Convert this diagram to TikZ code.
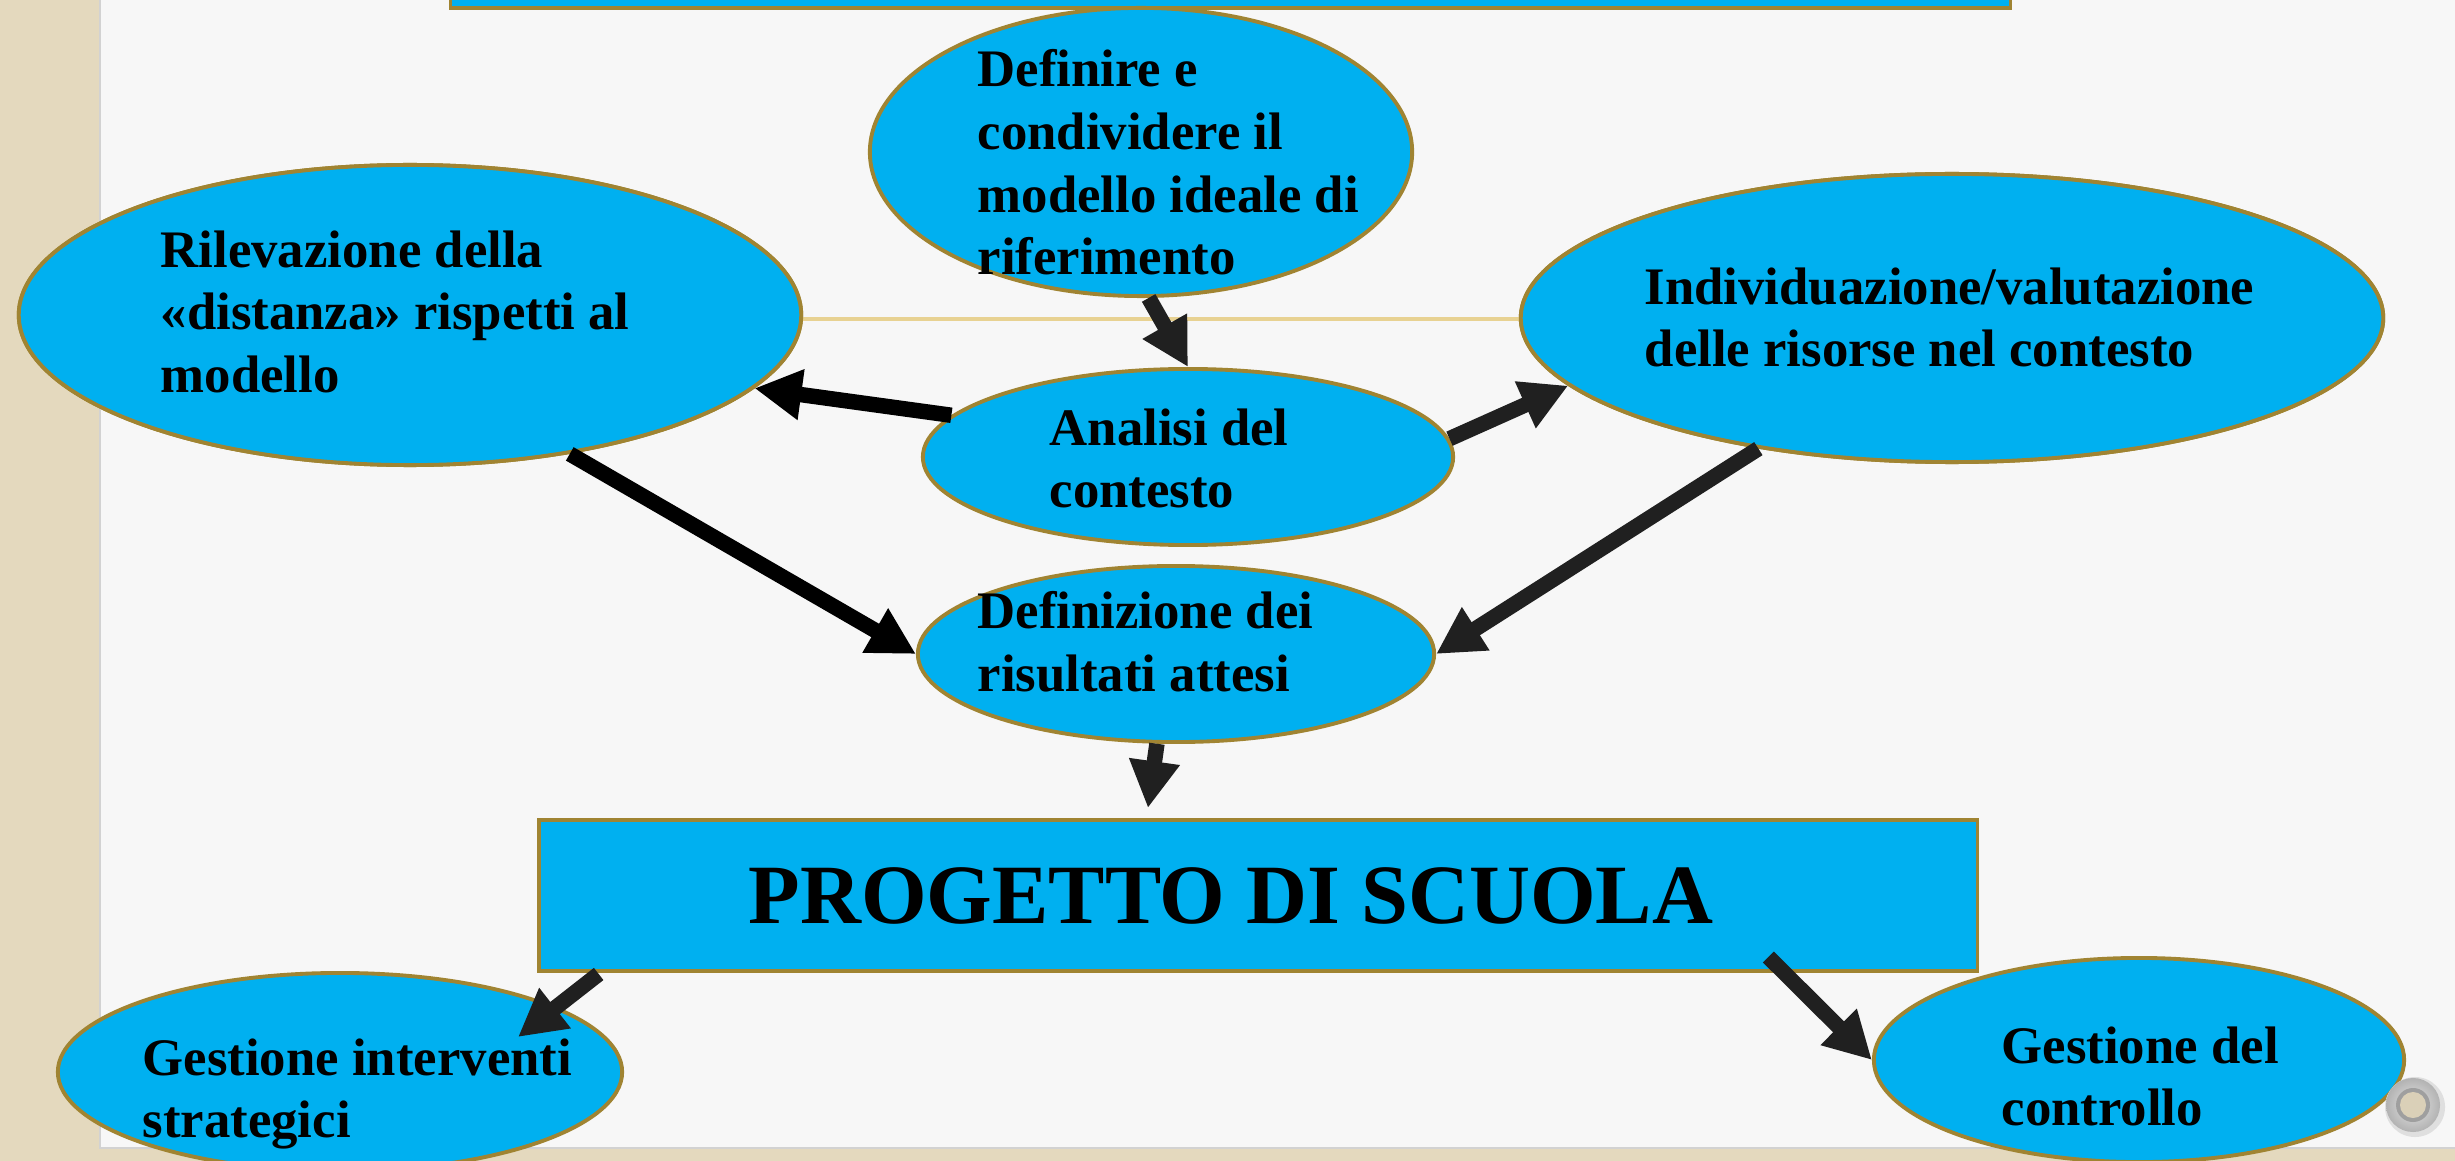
\documentclass[tikz,border=0pt]{standalone}
\usepackage{fontspec}
\setmainfont{Liberation Serif}
\usetikzlibrary{arrows.meta,calc,shapes.geometric}
\definecolor{cyanfill}{HTML}{00B0F0}
\definecolor{goldline}{HTML}{A08432}
\definecolor{beige}{HTML}{E4D9BE}
\definecolor{paper}{HTML}{F7F7F7}
\definecolor{arrowc}{HTML}{202020}
\definecolor{rulegold}{HTML}{E8D292}
\begin{document}
\begin{tikzpicture}[x=0.01cm,y=-0.01cm,
  oval/.style={ellipse, draw=goldline, line width=1.1pt, fill=cyanfill, inner sep=0pt},
  boxnode/.style={rectangle, draw=goldline, line width=1.1pt, fill=cyanfill, inner sep=0pt},
  lbl/.style={anchor=north west, inner sep=0pt, align=left, font=\fontsize{15}{17.8}\selectfont\bfseries},
  blockarrow/.style={draw=arrowc, line width=4.4pt, -{Triangle[length=0.47cm,width=0.48cm]}},
  blackarrow/.style={blockarrow, draw=black}]
\useasboundingbox (0,0) rectangle (2455,1161);
\clip (0,0) rectangle (2455,1161);
% background
\fill[beige] (0,0) rectangle (2455,1161);
\fill[paper] (100,0) rectangle (2455,1148);
\draw[gray!35, line width=0.6pt] (100,0) -- (100,1148) -- (2455,1148);
% top box
\node[boxnode, minimum width=15.59cm, minimum height=0.8cm] (topbox) at (1230.5,-32) {};
% ellipses
\node[oval, minimum width=7.82cm, minimum height=3.00cm] (rilev) at (410,315) {};
\node[oval, minimum width=8.62cm, minimum height=2.88cm] (indiv) at (1952,318) {};
\draw[rulegold, line width=1pt] (rilev.center |- 0,319) -- (indiv.center |- 0,319);
\node[oval, minimum width=7.82cm, minimum height=3.00cm] at (410,315) {};
\node[oval, minimum width=8.62cm, minimum height=2.88cm] at (1952,318) {};
\node[oval, minimum width=5.42cm, minimum height=2.88cm] (defi) at (1141,152) {};
\node[oval, minimum width=5.30cm, minimum height=1.76cm] (analisi) at (1188,457) {};
\node[oval, minimum width=5.16cm, minimum height=1.76cm] (defres) at (1176,654) {};
\node[boxnode, minimum width=14.38cm, minimum height=1.51cm] (progetto) at (1258,895.5) {};
\node[oval, minimum width=5.64cm, minimum height=1.98cm] (gestint) at (340,1072) {};
\node[oval, minimum width=5.30cm, minimum height=2.04cm] (gestcont) at (2139,1060) {};
% texts
\node[lbl] (tdefi) at (977,49) {Definire e\\condividere il\\modello ideale di\\riferimento};
\node[lbl] (trilev) at (160,230) {Rilevazione della\\«distanza» rispetti al\\modello};
\node[lbl] (tindiv) at (1644,267) {Individuazione/valutazione\\delle risorse nel contesto};
\node[lbl] (tanalisi) at (1049,408) {Analisi del\\contesto};
\node[lbl] (tdefres) at (977,591) {Definizione dei\\risultati attesi};
\node[inner sep=0pt, font=\fontsize{24}{28}\selectfont\bfseries] (tprog) at (1231,896) {PROGETTO DI SCUOLA};
\node[lbl] (tgestint) at (142,1038) {Gestione interventi\\strategici};
\node[lbl] (tgestcont) at (2001,1026) {Gestione del\\controllo};
% arrows
\draw[blockarrow] (defi.-87) -- (analisi.north);
\draw[blackarrow] (analisi.170) -- (rilev.-12);
\draw[blockarrow] (analisi.4) -- (indiv.190);
\draw[blackarrow] (rilev.-41) -- (defres.west);
\draw[blockarrow] (indiv.214.7) -- (defres.east);
\draw[blockarrow] (defres.-102) -- ($(defres.-102 |- progetto.north)+(-9,-10)$);
\draw[blockarrow] ($(progetto.south west)+(62,1)$) -- ($(gestint.center)+(178,-35)$);
\draw[blockarrow] ($(progetto.south east)+(-211,-16)$) -- (gestcont.west);
% grommet
\fill[gray!25] (2415,1107) circle[radius=0.3cm];
\shade[inner color=gray!20, outer color=gray!60] (2413,1105) circle[radius=0.27cm];
\fill[gray!75] (2413,1105) circle[radius=0.17cm];
\fill[beige!90!gray] (2413,1105) circle[radius=0.13cm];
\end{tikzpicture}
\end{document}
